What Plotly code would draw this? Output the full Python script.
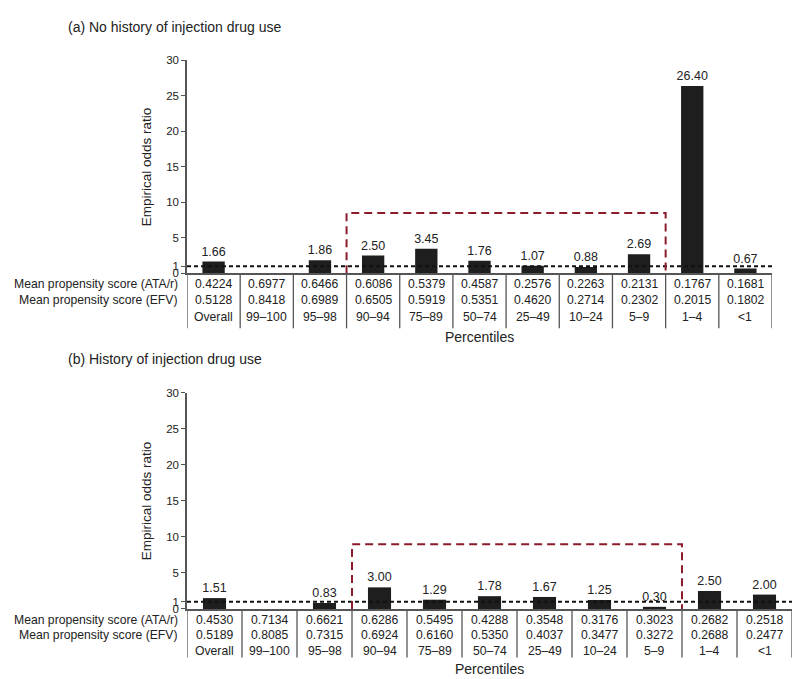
import plotly.graph_objects as go

W, H = 800, 679

percentiles = ["Overall", "99–100", "95–98", "90–94", "75–89", "50–74",
               "25–49", "10–24", "5–9", "1–4", "<1"]

# (a) No history of injection drug use
odds_a = [1.66, None, 1.86, 2.50, 3.45, 1.76, 1.07, 0.88, 2.69, 26.40, 0.67]
ata_a = ["0.4224", "0.6977", "0.6466", "0.6086", "0.5379", "0.4587",
         "0.2576", "0.2263", "0.2131", "0.1767", "0.1681"]
efv_a = ["0.5128", "0.8418", "0.6989", "0.6505", "0.5919", "0.5351",
         "0.4620", "0.2714", "0.2302", "0.2015", "0.1802"]

# (b) History of injection drug use
odds_b = [1.51, None, 0.83, 3.00, 1.29, 1.78, 1.67, 1.25, 0.30, 2.50, 2.00]
ata_b = ["0.4530", "0.7134", "0.6621", "0.6286", "0.5495", "0.4288",
         "0.3548", "0.3176", "0.3023", "0.2682", "0.2518"]
efv_b = ["0.5189", "0.8085", "0.7315", "0.6924", "0.6160", "0.5350",
         "0.4037", "0.3477", "0.3272", "0.2688", "0.2477"]

# highlighted range (columns 90-94 .. 5-9) and its height in odds-ratio units
box_cols = (3, 8)
box_top_a = 8.5
box_top_b = 9.0

FONT = "Liberation Sans, Arial, sans-serif"
TXT = "#222222"
AXIS = "#555555"
BAR = "#1e1e1e"
RED = "#8b1c2c"


def px_x(p):
    return p / W


def px_y(p):
    return 1 - p / H


# panel geometry in pixels
panels = [
    dict(tag="(a) No history of injection drug use", odds=odds_a, ata=ata_a, efv=efv_a,
         left=179, right=764, top=47.3, bottom=264, rows=(274.5, 291.5, 308), tbottom=320,
         xlab=329, title=13, box_top=box_top_a, xa="x", ya="y"),
    dict(tag="(b) History of injection drug use", odds=odds_b, ata=ata_b, efv=efv_b,
         left=179, right=784, top=385.7, bottom=605.7, rows=(616.5, 632.5, 648), tbottom=655,
         xlab=667, title=351, box_top=box_top_b, xa="x2", ya="y2"),
]

fig = go.Figure()
shapes = []
annotations = []
n = len(percentiles)

for i, p in enumerate(panels):
    sfx = "" if i == 0 else "2"
    xs = list(range(n))
    fig.add_trace(go.Bar(
        x=xs, y=p["odds"], xaxis=p["xa"], yaxis=p["ya"],
        marker=dict(color=BAR, line=dict(width=0)),
        text=[f"{v:.2f}" if v is not None else "" for v in p["odds"]],
        textposition="outside", constraintext="none",
        textfont=dict(size=12.5, color=TXT, family=FONT),
        cliponaxis=False, showlegend=False, hoverinfo="skip",
    ))
    fig.update_layout({
        "xaxis" + sfx: dict(domain=[px_x(p["left"]), px_x(p["right"])], range=[-0.5, n - 0.5],
                            anchor=p["ya"], showticklabels=False, ticks="", showgrid=False,
                            zeroline=False, showline=True, linecolor=AXIS, linewidth=1.5),
        "yaxis" + sfx: dict(domain=[px_y(p["bottom"]), px_y(p["top"])], range=[0, 30],
                            anchor=p["xa"], tickvals=[0, 1, 5, 10, 15, 20, 25, 30],
                            ticks="outside", ticklen=4, tickcolor=AXIS, showgrid=False,
                            zeroline=False, showline=True, linecolor=AXIS, linewidth=1.5,
                            tickfont=dict(size=11.5, color=TXT, family=FONT),
                            title=dict(text="Empirical odds ratio", standoff=11,
                                       font=dict(size=13.5, color=TXT, family=FONT))),
    })

    # reference line at odds ratio 1
    shapes.append(dict(type="line", xref=p["xa"], yref=p["ya"], x0=-0.5, x1=n - 0.5, y0=1, y1=1,
                       line=dict(color="#111111", width=2, dash="4px,3px")))
    # highlighted range
    x0, x1 = box_cols[0] - 0.5, box_cols[1] + 0.5
    shapes.append(dict(type="path", xref=p["xa"], yref=p["ya"],
                       path=f"M {x0},0 L {x0},{p['box_top']} L {x1},{p['box_top']} L {x1},0",
                       line=dict(color=RED, width=2, dash="8px,5px")))

    # table grid lines
    for k in range(n + 1):
        shapes.append(dict(type="line", xref=p["xa"], yref="paper", x0=k - 0.5, x1=k - 0.5,
                           y0=px_y(p["bottom"]), y1=px_y(p["tbottom"]),
                           line=dict(color=AXIS, width=1.3)))

    # table cells
    for k in range(n):
        for row, val in zip(p["rows"], (p["ata"][k], p["efv"][k], percentiles[k])):
            annotations.append(dict(x=k, y=px_y(row), xref=p["xa"], yref="paper", text=val,
                                    showarrow=False, xanchor="center", yanchor="middle",
                                    font=dict(size=12.2, color=TXT, family=FONT)))

    # row labels
    for row, lab in zip(p["rows"][:2], ("Mean propensity score (ATA/r)", "Mean propensity score (EFV)")):
        annotations.append(dict(x=px_x(172), y=px_y(row), xref="paper", yref="paper", text=lab,
                                showarrow=False, xanchor="right", yanchor="middle",
                                font=dict(size=12.2, color=TXT, family=FONT)))

    annotations.append(dict(x=px_x((p["left"] + p["right"]) / 2), y=px_y(p["xlab"]), xref="paper",
                            yref="paper", text="Percentiles", showarrow=False,
                            xanchor="center", yanchor="middle",
                            font=dict(size=14, color=TXT, family=FONT)))
    annotations.append(dict(x=px_x(58), y=px_y(p["title"]), xref="paper", yref="paper",
                            text=p["tag"], showarrow=False, xanchor="left", yanchor="middle",
                            font=dict(size=14, color=TXT, family=FONT)))

fig.update_layout(
    width=W, height=H, margin=dict(l=0, r=0, t=0, b=0),
    paper_bgcolor="white", plot_bgcolor="white",
    bargap=0.58, shapes=shapes, annotations=annotations,
    font=dict(family=FONT, color=TXT),
)

fig.write_html("out.html")
